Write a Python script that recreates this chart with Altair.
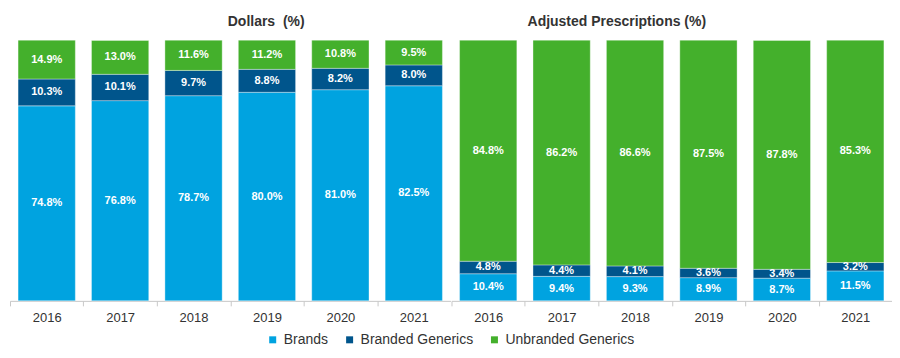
import altair as alt
import pandas as pd

years = ["2016", "2017", "2018", "2019", "2020", "2021"]
segments = ["Brands", "Branded Generics", "Unbranded Generics"]
colors = ["#00A3E0", "#00558C", "#44B02C"]

dollars_brands = [74.8, 76.8, 78.7, 80.0, 81.0, 82.5]
dollars_branded_generics = [10.3, 10.1, 9.7, 8.8, 8.2, 8.0]
dollars_unbranded = [14.9, 13.0, 11.6, 11.2, 10.8, 9.5]

rx_brands = [10.4, 9.4, 9.3, 8.9, 8.7, 11.5]
rx_branded_generics = [4.8, 4.4, 4.1, 3.6, 3.4, 3.2]
rx_unbranded = [84.8, 86.2, 86.6, 87.5, 87.8, 85.3]


def frame(series):
    rows = []
    for s_i, (seg, vals) in enumerate(zip(segments, series)):
        for y, v in zip(years, vals):
            rows.append({"year": y, "segment": seg, "ord": s_i, "value": v,
                         "label": f"{v:.1f}%"})
    return pd.DataFrame(rows)


df_d = frame([dollars_brands, dollars_branded_generics, dollars_unbranded])
df_r = frame([rx_brands, rx_branded_generics, rx_unbranded])

FONT = "Liberation Sans"
W, H = 441, 261
STEP = W / 6


def panel(df, title, dx, show_legend):
    base = alt.Chart(df).transform_stack(
        stack="value", groupby=["year"], as_=["y0", "y1"],
        sort=[alt.SortField("ord", order="ascending")]
    ).transform_calculate(mid="(datum.y0 + datum.y1) / 2")

    x = alt.X("year:N", sort=years, title=None,
              scale=alt.Scale(paddingInner=0.22, paddingOuter=0.11),
              axis=alt.Axis(labelAngle=0, labelFont=FONT, labelFontSize=13,
                            labelColor="#333333", domainColor="#c8c8c8",
                            tickColor="#c8c8c8", tickSize=5,
                            tickOffset=-STEP / 2, labelOffset=STEP / 2,
                            labelPadding=6))
    legend = alt.Legend(title=None, orient="none", direction="horizontal",
                        legendX=256, legendY=293, symbolType="square",
                        symbolSize=49, symbolStrokeWidth=0,
                        labelFont=FONT, labelFontSize=14, labelColor="#333333",
                        columnPadding=14, symbolOffset=0) if show_legend else None
    color = alt.Color("segment:N", sort=segments,
                      scale=alt.Scale(domain=segments, range=colors),
                      legend=legend)

    bars = base.mark_bar(stroke="#ffffff", strokeWidth=0.6, strokeOpacity=0.6).encode(
        x=x,
        y=alt.Y("y0:Q", scale=alt.Scale(domain=[0, 100]), axis=None),
        y2="y1:Q",
        color=color,
    )
    text = base.mark_text(color="white", font=FONT, fontWeight="bold",
                          fontSize=11, baseline="middle").encode(
        x=alt.X("year:N", sort=years),
        y=alt.Y("mid:Q"),
        text="label:N",
    )
    return (bars + text).properties(
        width=W, height=H,
        title=alt.TitleParams(title, font=FONT, fontSize=14, fontWeight="bold",
                              color="#333333", anchor="middle", dx=dx, offset=11),
    )


chart = alt.hconcat(
    panel(df_d, "Dollars\u00a0 (%)", 36, True),
    panel(df_r, "Adjusted Prescriptions (%)", -55, False),
    spacing=0,
).resolve_scale(color="shared").properties(
    padding={"left": 1, "top": 6, "right": 0, "bottom": 0}
).configure_view(stroke=None)

chart.save("out.html", embed_options={"renderer": "svg", "actions": False})
